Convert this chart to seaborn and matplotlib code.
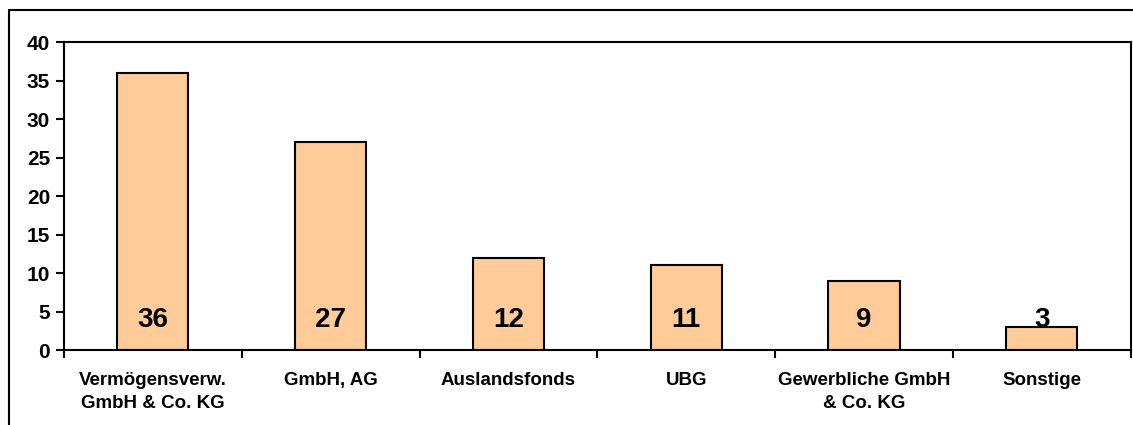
import matplotlib
matplotlib.use("Agg")
import matplotlib.pyplot as plt
import seaborn as sns
import pandas as pd
from matplotlib.lines import Line2D

categories = ["Vermögensverw.\nGmbH & Co. KG", "GmbH, AG", "Auslandsfonds",
              "UBG", "Gewerbliche GmbH\n& Co. KG", "Sonstige"]
values = [36, 27, 12, 11, 9, 3]
yticks = [0, 5, 10, 15, 20, 25, 30, 35, 40]

df = pd.DataFrame({"Kategorie": categories, "Anzahl": values})

sns.set_style("white")
plt.rcParams["font.family"] = ["Liberation Sans", "DejaVu Sans"]
plt.rcParams["font.weight"] = "bold"
plt.rcParams["text.color"] = "black"
plt.rcParams["xtick.color"] = "black"
plt.rcParams["ytick.color"] = "black"

fig = plt.figure(figsize=(11.33, 4.25), dpi=100)
ax = fig.add_axes([0.0565, 0.176, 0.9415, 0.725])

sns.barplot(data=df, x="Kategorie", y="Anzahl", color="#FFCC99",
            edgecolor="black", linewidth=1.5, width=0.4, saturation=1, ax=ax)

for i, v in enumerate(values):
    ax.text(i, 3.9, str(v), ha="center", va="center",
            fontsize=20, fontweight="bold", color="black")

ax.set_xlim(-0.5, len(categories) - 0.5)
ax.set_ylim(0, 40)
ax.set_yticks(yticks)
ax.set_xlabel("")
ax.set_ylabel("")

# tick marks between categories, labels centered
ax.set_xticks([i - 0.5 for i in range(len(categories) + 1)], minor=True)
ax.tick_params(axis="x", which="major", length=0, pad=16, labelsize=13.5,
               labelcolor="black")
ax.tick_params(axis="x", which="minor", length=6, width=1.5, direction="out")
ax.tick_params(axis="y", length=6, width=1.5, direction="out", labelsize=15,
               pad=4, labelcolor="black")
ax.xaxis.set_ticks_position("bottom")
ax.yaxis.set_ticks_position("left")
for lab in ax.get_xticklabels():
    lab.set_fontweight("bold")
    lab.set_linespacing(1.45)
for lab in ax.get_yticklabels():
    lab.set_fontweight("bold")
for side in ["top", "right", "bottom", "left"]:
    ax.spines[side].set_visible(True)
    ax.spines[side].set_color("black")
    ax.spines[side].set_linewidth(1.5)

# outer frame
fig.add_artist(Line2D([9 / 1133, 1], [1 - 10 / 425, 1 - 10 / 425],
                      transform=fig.transFigure, color="black", lw=1.5))
fig.add_artist(Line2D([9 / 1133, 9 / 1133], [0, 1 - 10 / 425],
                      transform=fig.transFigure, color="black", lw=1.5))

fig.savefig("out.png", dpi=100)
